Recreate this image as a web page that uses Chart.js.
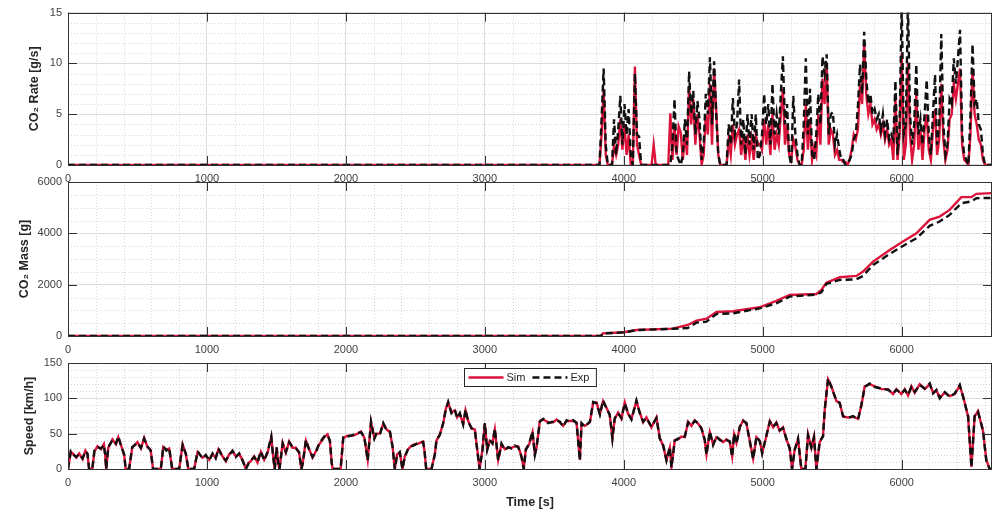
<!DOCTYPE html>
<html lang="en">
<head>
    <meta charset="UTF-8">
    <title>CO2 rate, CO2 mass and speed</title>
    <script src="https://cdn.jsdelivr.net/npm/chart.js"></script>
    <style>
        body { margin: 0; background: #fff; }
        #wrap { position: relative; width: 993px; height: 517px; }
        #wrap canvas { position: absolute; left: 0; top: 0; }
    </style>
</head>
<body>
<div id="wrap">
    <canvas id="rateChart" width="993" height="517"></canvas>
    <canvas id="massChart" width="993" height="517"></canvas>
    <canvas id="speedChart" width="993" height="517"></canvas>
</div>

<script>
    // ---- data ----
    const timeTicks = [0, 1000, 2000, 3000, 4000, 5000, 6000];
    const rateTicks = [0, 5, 10, 15];
    const massTicks = [0, 2000, 4000, 6000];
    const speedTicks = [0, 50, 100, 150];
    const timeMax = 6650;

    // CO2 rate is zero until the engine starts, then sampled every 15 s
    const rateStart = 3780;
    const rateStep = 15;
    const rateExp = [
        0, 0, 0, 0, 4.5, 9.5, 2, 0, 0, 0,
        4.5, 1, 3.5, 6.8, 2, 6, 3, 5.5, 1, 0,
        9, 3, 2.8, 0, 0, 0, 0, 0, 0, 0,
        0, 0, 0, 0, 0, 0, 0, 0, 2, 6.5,
        1, 0.5, 0, 1, 4.5, 2, 9.2, 5, 7.3, 3,
        6.3, 4.5, 0.5, 2, 7, 5, 10.6, 4, 10.2, 5,
        1, 0, 0, 0, 0, 4, 2, 6.6, 3, 4,
        8.4, 2, 4.5, 1, 5, 2, 5, 1.5, 5, 0.5,
        1, 3, 7, 4, 6, 2, 8, 3, 5, 3,
        7, 10.7, 4, 6, 1, 0, 6.8, 3, 1, 0,
        0, 4, 10.5, 3, 7.5, 1, 0.5, 3, 7, 4,
        10.7, 9, 10.9, 3, 5, 5.2, 2, 3, 1.6, 0.5,
        0.5, 0, 0.2, 0.5, 1, 2.5, 3, 5.8, 9.9, 7,
        13.1, 8.6, 6, 7, 5, 5.5, 4.5, 5, 3.5, 5,
        3, 4.5, 2.5, 3, 2.5, 8.3, 1, 4, 16, 3,
        4, 16, 5, 2, 4, 9.9, 3, 4.5, 2, 5,
        8.4, 3, 1, 5, 8.9, 2, 4, 12.9, 4, 1,
        2, 6.5, 6, 10.5, 8, 10.5, 13.3, 3, 1, 0.5,
        0, 5, 11.9, 6, 6.5, 4, 3.5, 1, 0, 0,
        0, 0
    ];
    const rateSim = [
        0, 0, 0, 0, 3, 7.5, 1, 0, 0, 0,
        2, 1, 2, 4.5, 1.5, 4, 1, 3, 0, 0,
        9.7, 2, 1, 0, 0, 0, 0, 0, 0, 2,
        0, 0, 0, 0, 0, 0, 0, 5.1, 0.5, 3.8,
        1, 3.8, 3.2, 0.5, 3, 1, 7.8, 4, 6.5, 2,
        5, 3, 0, 1, 5, 3, 8, 2, 9.5, 5.5,
        1, 0, 0, 0, 0, 2.5, 1, 4, 2, 3,
        3.5, 1, 3, 0.5, 3, 1, 2.5, 0.5, 3, 2,
        2.1, 1.5, 4.5, 2, 4, 1, 5, 1.5, 3, 2,
        5, 7.5, 2, 4, 1, 0.5, 2.5, 1.8, 0.5, 0,
        0, 1.5, 6, 1.5, 4.5, 0.5, 1.8, 1, 5, 2,
        8.5, 6, 10, 2, 3.5, 3, 1, 1.5, 0.5, 0.5,
        0.3, 0.3, 0, 0.5, 1.5, 3, 2.5, 3.5, 8, 6,
        12, 7, 5, 6, 4, 4.5, 3.5, 4, 3, 4,
        2.5, 3.5, 2, 2.5, 0.5, 6.5, 0.5, 3, 11, 0.5,
        2, 10, 3, 0.5, 2, 7, 1.5, 3.5, 0.5, 3.5,
        5, 1.5, 0.5, 3.5, 5.5, 1, 2.5, 8, 2.5, 0.5,
        1.5, 4.5, 5, 8, 6.5, 8, 9.5, 2, 0.5, 0.3,
        0, 3, 9.5, 5, 4, 2.5, 2, 0.5, 0, 0,
        0, 0
    ];

    const massTime = [0, 3835, 3850, 4000, 4091, 4353, 4460, 4523, 4595, 4667, 4787, 4978, 5098, 5194, 5386,
        5422, 5458, 5554, 5674, 5722, 5794, 5914, 6009, 6106, 6201, 6273, 6345, 6429, 6501, 6537, 6650];
    const massSim = [0, 0, 105, 144, 234, 286, 429, 597, 676, 936, 962, 1118, 1365, 1599, 1638,
        1794, 2080, 2288, 2340, 2509, 2899, 3354, 3679, 4004, 4524, 4654, 4914, 5409, 5409, 5538, 5565];
    const massExp = [0, 0, 100, 140, 228, 282, 310, 520, 558, 858, 885, 1079, 1274, 1534, 1612,
        1700, 2028, 2184, 2210, 2340, 2769, 3198, 3510, 3809, 4290, 4459, 4719, 5174, 5240, 5369, 5380];

    const speedTime = [
        0, 20, 40, 60, 80, 105, 125, 140, 152, 175,
        190, 212, 237, 258, 268, 275, 290, 320, 345, 362,
        380, 405, 415, 440, 462, 500, 525, 548, 572, 595,
        612, 668, 686, 708, 728, 750, 800, 825, 848, 866,
        908, 933, 968, 992, 1016, 1040, 1063, 1083, 1112, 1136,
        1160, 1184, 1208, 1232, 1256, 1280, 1300, 1316, 1340, 1364,
        1388, 1412, 1436, 1463, 1475, 1488, 1501, 1515, 1522, 1545,
        1568, 1592, 1616, 1640, 1663, 1680, 1690, 1712, 1736, 1760,
        1784, 1808, 1844, 1868, 1885, 1898, 1905, 1962, 1981, 2013,
        2049, 2085, 2109, 2133, 2157, 2181, 2205, 2221, 2245, 2269,
        2293, 2317, 2336, 2352, 2369, 2388, 2407, 2424, 2448, 2472,
        2496, 2520, 2556, 2566, 2578, 2616, 2640, 2652, 2676, 2700,
        2719, 2736, 2760, 2784, 2801, 2820, 2844, 2861, 2880, 2904,
        2928, 2945, 2962, 2983, 3000, 3017, 3036, 3055, 3072, 3096,
        3120, 3144, 3168, 3192, 3216, 3240, 3264, 3280, 3295, 3319,
        3343, 3360, 3372, 3396, 3420, 3456, 3492, 3516, 3540, 3564,
        3588, 3612, 3636, 3660, 3684, 3696, 3720, 3756, 3780, 3804,
        3828, 3851, 3875, 3899, 3918, 3935, 3959, 3983, 4007, 4031,
        4055, 4091, 4115, 4139, 4163, 4199, 4235, 4259, 4283, 4307,
        4331, 4343, 4367, 4391, 4415, 4439, 4463, 4487, 4511, 4535,
        4559, 4583, 4595, 4619, 4643, 4667, 4691, 4715, 4739, 4763,
        4780, 4794, 4811, 4835, 4859, 4883, 4900, 4931, 4955, 4979,
        4996, 5027, 5051, 5075, 5098, 5122, 5146, 5170, 5194, 5211,
        5230, 5254, 5278, 5307, 5326, 5350, 5369, 5386, 5410, 5434,
        5446, 5470, 5494, 5530, 5554, 5578, 5614, 5650, 5686, 5710,
        5734, 5770, 5806, 5854, 5902, 5938, 5962, 5998, 6022, 6046,
        6070, 6094, 6130, 6166, 6202, 6226, 6250, 6274, 6310, 6346,
        6382, 6418, 6442, 6478, 6502, 6525, 6549, 6585, 6609, 6633,
        6650
    ];
    const speedExp = [
        0, 25, 20, 17, 21, 15, 25, 22, 0, 0,
        26, 31, 29, 34, 20, 0, 31, 41, 36, 46,
        34, 20, 0, 0, 31, 37, 30, 43, 32, 26,
        0, 0, 32, 26, 30, 0, 0, 34, 22, 0,
        0, 25, 15, 20, 12, 22, 15, 29, 17, 12,
        20, 26, 17, 22, 12, 0, 8, 12, 17, 10,
        25, 12, 24, 46, 20, 0, 31, 5, 0, 36,
        24, 38, 31, 29, 24, 0, 8, 41, 27, 17,
        24, 36, 46, 48, 40, 8, 0, 0, 45, 46,
        48, 51, 52, 45, 12, 67, 43, 51, 49, 65,
        55, 53, 31, 0, 20, 24, 0, 17, 29, 32,
        34, 37, 38, 26, 0, 0, 20, 41, 48, 65,
        84, 95, 79, 84, 72, 79, 63, 84, 67, 58,
        55, 27, 0, 27, 65, 27, 41, 36, 57, 12,
        36, 27, 31, 29, 33, 31, 17, 0, 27, 36,
        53, 20, 31, 67, 71, 65, 67, 69, 67, 60,
        69, 67, 69, 65, 12, 65, 60, 67, 95, 93,
        77, 97, 86, 77, 43, 72, 79, 72, 93, 79,
        70, 97, 79, 67, 72, 60, 72, 43, 34, 12,
        31, 2, 40, 43, 45, 46, 66, 62, 68, 65,
        57, 41, 20, 53, 34, 46, 41, 39, 41, 39,
        17, 50, 36, 60, 68, 65, 46, 14, 46, 39,
        22, 48, 67, 60, 65, 55, 58, 43, 29, 0,
        27, 43, 0, 0, 48, 31, 45, 0, 39, 46,
        84, 128, 116, 97, 93, 75, 72, 75, 70, 91,
        116, 121, 116, 114, 112, 107, 112, 107, 112, 105,
        116, 109, 119, 114, 121, 107, 112, 100, 109, 102,
        107, 119, 102, 75, 2, 75, 81, 55, 12, 0,
        0
    ];
    const speedSim = [
        0, 24, 21, 16, 22, 14, 26, 21, 0, 0,
        25, 32, 28, 35, 19, 0, 30, 42, 35, 45,
        35, 19, 0, 0, 30, 38, 29, 44, 31, 27,
        0, 0, 31, 27, 29, 0, 0, 35, 21, 0,
        0, 24, 16, 19, 13, 21, 16, 28, 18, 11,
        21, 25, 18, 21, 13, 0, 9, 11, 18, 9,
        24, 13, 23, 45, 21, 0, 30, 6, 0, 37,
        23, 39, 30, 30, 23, 0, 9, 40, 28, 16,
        25, 35, 45, 49, 39, 9, 0, 0, 44, 47,
        47, 50, 53, 44, 13, 66, 44, 50, 50, 64,
        56, 52, 32, 0, 21, 23, 0, 18, 28, 33,
        35, 36, 39, 25, 0, 0, 21, 40, 49, 64,
        85, 94, 80, 83, 73, 78, 64, 83, 68, 57,
        56, 28, 0, 28, 64, 28, 40, 37, 56, 13,
        35, 28, 30, 30, 32, 32, 18, 0, 28, 35,
        52, 21, 30, 68, 70, 66, 66, 70, 66, 61,
        68, 68, 68, 66, 13, 64, 61, 66, 94, 94,
        78, 96, 87, 76, 44, 71, 80, 71, 94, 78,
        71, 96, 80, 66, 73, 59, 73, 44, 33, 13,
        30, 3, 41, 42, 46, 45, 67, 61, 69, 64,
        58, 40, 21, 52, 35, 45, 42, 38, 42, 38,
        18, 49, 37, 59, 69, 64, 47, 15, 45, 40,
        23, 47, 68, 59, 66, 54, 59, 42, 30, 0,
        28, 42, 0, 0, 49, 30, 46, 0, 38, 47,
        83, 127, 117, 96, 94, 74, 73, 74, 71, 90,
        117, 120, 117, 113, 113, 106, 113, 106, 113, 104,
        117, 108, 120, 113, 120, 108, 111, 101, 108, 103,
        106, 118, 103, 74, 3, 74, 82, 54, 13, 0,
        0
    ];

    // ---- helpers ----
    const FONT = "'Liberation Sans', Arial, Helvetica, sans-serif";
    const SIM_COLOR = '#dc143c';
    const EXP_COLOR = '#111111';

    function toPoints(times, values) {
        return values.map((v, i) => ({ x: times[i], y: v }));
    }

    const rateTime = rateExp.map((v, i) => rateStart + i * rateStep);

    function simExpDatasets(times, sim, exp, lead) {
        // lead: flat zero section before the first sample
        const simPts = (lead ? [{ x: 0, y: 0 }] : []).concat(toPoints(times, sim));
        const expPts = (lead ? [{ x: 0, y: 0 }] : []).concat(toPoints(times, exp));
        return [
            { label: 'Sim', data: simPts, borderColor: SIM_COLOR, borderWidth: 2.4, pointRadius: 0, order: 1 },
            { label: 'Exp', data: expPts, borderColor: EXP_COLOR, borderWidth: 2.4, borderDash: [7, 4], pointRadius: 0, order: 0 }
        ];
    }

    // minor dotted grid, box with inward ticks, and an inset legend
    const framePlugin = {
        id: 'frame',
        beforeDatasetsDraw(chart, args, opts) {
            const { ctx, chartArea: a, scales: { x, y } } = chart;
            ctx.save();
            ctx.strokeStyle = '#d6d6d6';
            ctx.lineWidth = 1;
            ctx.setLineDash([1, 2]);
            ctx.beginPath();
            for (let i = 1; i * opts.xMinor < x.max; i++) {
                const v = i * opts.xMinor;
                if (timeTicks.includes(v)) continue;
                const px = Math.round(x.getPixelForValue(v)) + 0.5;
                ctx.moveTo(px, a.top);
                ctx.lineTo(px, a.bottom);
            }
            for (let i = 1; y.min + i * opts.yMinor < y.max; i++) {
                const v = y.min + i * opts.yMinor;
                if (opts.yTicks.includes(v)) continue;
                const py = Math.round(y.getPixelForValue(v)) + 0.5;
                ctx.moveTo(a.left, py);
                ctx.lineTo(a.right, py);
            }
            ctx.stroke();
            ctx.restore();
        },
        afterDatasetsDraw(chart, args, opts) {
            const { ctx, chartArea: a, scales: { x, y } } = chart;
            const tick = 9;
            ctx.save();
            ctx.strokeStyle = '#333333';
            ctx.lineWidth = 1;
            ctx.beginPath();
            timeTicks.forEach(v => {
                const px = Math.round(x.getPixelForValue(v)) + 0.5;
                ctx.moveTo(px, a.top); ctx.lineTo(px, a.top + tick);
                ctx.moveTo(px, a.bottom); ctx.lineTo(px, a.bottom - tick);
            });
            opts.yTicks.forEach(v => {
                const py = Math.round(y.getPixelForValue(v)) + 0.5;
                ctx.moveTo(a.left, py); ctx.lineTo(a.left + tick, py);
                ctx.moveTo(a.right, py); ctx.lineTo(a.right - tick, py);
            });
            ctx.stroke();
            ctx.strokeRect(Math.round(a.left) + 0.5, Math.round(a.top) + 0.5,
                Math.round(a.right - a.left) - 1, Math.round(a.bottom - a.top));

            if (opts.legend) {
                ctx.font = '11px ' + FONT;
                const sets = chart.data.datasets;
                const lineLen = 35;
                let w = 4;
                sets.forEach(ds => { w += lineLen + 3 + ctx.measureText(ds.label).width + 7; });
                const h = 18;
                const bx = Math.round((a.left + a.right) / 2 - w / 2) + 0.5;
                const by = Math.round(a.top + 5) + 0.5;
                ctx.fillStyle = '#ffffff';
                ctx.fillRect(bx, by, w, h);
                ctx.strokeStyle = '#262626';
                ctx.strokeRect(bx, by, w, h);
                let cx = bx + 4;
                const cy = by + h / 2;
                sets.forEach(ds => {
                    ctx.beginPath();
                    ctx.strokeStyle = ds.borderColor;
                    ctx.lineWidth = ds.borderWidth;
                    ctx.setLineDash(ds.borderDash || []);
                    ctx.moveTo(cx, cy);
                    ctx.lineTo(cx + lineLen, cy);
                    ctx.stroke();
                    ctx.setLineDash([]);
                    ctx.fillStyle = '#262626';
                    ctx.textBaseline = 'middle';
                    ctx.fillText(ds.label, cx + lineLen + 3, cy + 0.5);
                    cx += lineLen + 3 + ctx.measureText(ds.label).width + 7;
                });
            }
            ctx.restore();
        }
    };
    Chart.register(framePlugin);

    function panelOptions(p) {
        const xHeight = p.xTitle ? 48 : 25;
        return {
            responsive: false,
            animation: false,
            events: [],
            layout: { padding: { top: p.top, bottom: 517 - p.bottom - xHeight, left: 0, right: 1 } },
            plugins: {
                legend: { display: false },
                tooltip: { enabled: false },
                frame: { xMinor: 200, yMinor: p.minor, yTicks: p.ticks, legend: !!p.legend }
            },
            scales: {
                x: {
                    type: 'linear',
                    min: 0,
                    max: timeMax,
                    afterBuildTicks: s => { s.ticks = timeTicks.map(v => ({ value: v })); },
                    afterFit: s => { s.height = xHeight; },
                    grid: { color: '#dcdcdc', drawTicks: false },
                    border: { display: false },
                    ticks: {
                        padding: 7, color: '#404040', autoSkip: false, maxRotation: 0,
                        font: { family: FONT, size: 11 },
                        callback: v => String(v)
                    },
                    title: {
                        display: !!p.xTitle,
                        text: p.xTitle || '',
                        color: '#262626',
                        font: { family: FONT, size: 12.5, weight: 'bold' },
                        padding: { top: 0, bottom: 7 }
                    }
                },
                y: {
                    min: p.min,
                    max: p.max,
                    afterBuildTicks: s => { s.ticks = p.ticks.map(v => ({ value: v })); },
                    afterFit: s => { s.width = 68; },
                    grid: { color: '#dcdcdc', drawTicks: false },
                    border: { display: false },
                    ticks: {
                        padding: 6, color: '#404040', autoSkip: false,
                        font: { family: FONT, size: 11 },
                        callback: v => String(v)
                    },
                    title: {
                        display: true,
                        text: p.title,
                        color: '#262626',
                        font: { family: FONT, size: 12.5, weight: 'bold' },
                        padding: { top: p.titlePad, bottom: 0 }
                    }
                }
            }
        };
    }

    // CO2 rate
    new Chart(document.getElementById('rateChart'), {
        type: 'line',
        data: { datasets: simExpDatasets(rateTime, rateSim, rateExp, true) },
        options: panelOptions({ top: 11, bottom: 165, min: 0, max: 15, ticks: rateTicks, minor: 1,
            title: 'CO\u2082 Rate [g/s]', titlePad: 27 })
    });

    // cumulative CO2 mass
    new Chart(document.getElementById('massChart'), {
        type: 'line',
        data: { datasets: simExpDatasets(massTime, massSim, massExp, false) },
        options: panelOptions({ top: 182, bottom: 336, min: 0, max: 6000, ticks: massTicks, minor: 500,
            title: 'CO\u2082 Mass [g]', titlePad: 17 })
    });

    // vehicle speed
    new Chart(document.getElementById('speedChart'), {
        type: 'line',
        data: { datasets: simExpDatasets(speedTime, speedSim, speedExp, false) },
        options: panelOptions({ top: 363, bottom: 469, min: 0, max: 150, ticks: speedTicks, minor: 10,
            title: 'Speed [km/h]', titlePad: 22, xTitle: 'Time [s]', legend: true })
    });
</script>
</body>
</html>
